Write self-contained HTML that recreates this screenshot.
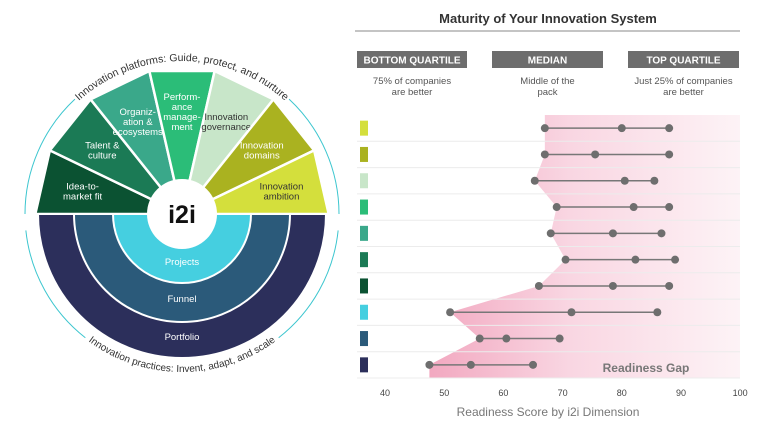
<!DOCTYPE html>
<html><head><meta charset="utf-8"><style>
html,body{margin:0;padding:0;background:#fff;width:768px;height:432px;overflow:hidden}
svg{display:block;font-family:"Liberation Sans",sans-serif}
</style></head><body>
<svg id="s" width="768" height="432" viewBox="0 0 768 432">
<defs>
<linearGradient id="pg" x1="0" x2="1" y1="0" y2="0">
<stop offset="0" stop-color="#f2a8c0"/><stop offset="0.45" stop-color="#f9d6e2"/><stop offset="1" stop-color="#fdf3f6"/>
</linearGradient>
<path id="topArc" d="M 29 214 A 153 153 0 0 1 335 214"/>
<path id="botArc" d="M 24 214 A 158 158 0 0 0 340 214"/>
</defs>
<g id="wheel"></g>
<g id="chart">
<text x="548" y="23" text-anchor="middle" font-size="13" font-weight="bold" fill="#333">Maturity of Your Innovation System</text>
<line x1="355" y1="31" x2="740" y2="31" stroke="#888" stroke-width="1"/>
<g>
<rect x="357" y="51" width="110" height="17" fill="#6d6d6d"/>
<text x="412" y="63.5" text-anchor="middle" font-size="10" font-weight="bold" fill="#fff">BOTTOM QUARTILE</text>
<text x="412" y="84" text-anchor="middle" font-size="9.5" fill="#555">75% of companies</text>
<text x="412" y="95" text-anchor="middle" font-size="9.5" fill="#555">are better</text></g>
<g>
<rect x="492" y="51" width="111" height="17" fill="#6d6d6d"/>
<text x="547.5" y="63.5" text-anchor="middle" font-size="10" font-weight="bold" fill="#fff">MEDIAN</text>
<text x="547.5" y="84" text-anchor="middle" font-size="9.5" fill="#555">Middle of the</text>
<text x="547.5" y="95" text-anchor="middle" font-size="9.5" fill="#555">pack</text></g>
<g>
<rect x="628" y="51" width="111" height="17" fill="#6d6d6d"/>
<text x="683.5" y="63.5" text-anchor="middle" font-size="10" font-weight="bold" fill="#fff">TOP QUARTILE</text>
<text x="683.5" y="84" text-anchor="middle" font-size="9.5" fill="#555">Just 25% of companies</text>
<text x="683.5" y="95" text-anchor="middle" font-size="9.5" fill="#555">are better</text></g>
<text x="548" y="416" text-anchor="middle" font-size="12" fill="#777">Readiness Score by i2i Dimension</text>
</g>
</svg>
<script>
const NS="http://www.w3.org/2000/svg";
function mk(p,t,a){const e=document.createElementNS(NS,t);for(const k in a)e.setAttribute(k,a[k]);p.appendChild(e);return e;}
// ---------- chart data ----------
const dimensions=["Innovation ambition","Innovation domains","Innovation governance","Performance management","Organization & ecosystems","Talent & culture","Idea-to-market fit","Projects","Funnel","Portfolio"];
const swatchColors=["#d4df3c","#aab220","#c8e6c9","#2bbd78","#3aa88a","#1b7a55","#0b5232","#45cfe0","#2b5a7a","#2c2f5b"];
const bottomQuartile=[67,67,65.3,69,68,70.5,66,51,56,47.5];
const medianScore=[80,75.5,80.5,82,78.5,82.3,78.5,71.5,60.5,54.5];
const topQuartile=[88,88,85.5,88,86.7,89,88,86,69.5,65];
const xTicks=[40,50,60,70,80,90,100];
const xs=v=>385+(v-40)*5.92;
const rowTop=115, rowH=26.3;
const ys=i=>rowTop+rowH*(i+0.5);
const ch=document.getElementById('chart');
let pts=[[740,rowTop],[xs(bottomQuartile[0]),rowTop]];
bottomQuartile.forEach((v,i)=>pts.push([xs(v),ys(i)]));
pts.push([xs(bottomQuartile[bottomQuartile.length-1]),rowTop+rowH*dimensions.length],[740,rowTop+rowH*dimensions.length]);
const area=mk(ch,'polygon',{points:pts.map(p=>p.join(',')).join(' '),fill:'url(#pg)'});


for(let i=1;i<=dimensions.length;i++){
 const l=mk(ch,'line',{x1:357,x2:740,y1:rowTop+rowH*i,y2:rowTop+rowH*i,stroke:'#ececec','stroke-width':1});
 
 
}
const gl=mk(ch,'text',{x:646,y:372,'text-anchor':'middle','font-size':12,'font-weight':'bold',fill:'#777'});
gl.textContent='Readiness Gap';


dimensions.forEach((d,i)=>{
 const y=ys(i);
 const sw=mk(ch,'rect',{x:360,y:y-7.5,width:8,height:15,fill:swatchColors[i]});
 
 
 const ln=mk(ch,'line',{x1:xs(bottomQuartile[i]),x2:xs(topQuartile[i]),y1:y,y2:y,stroke:'#777','stroke-width':1.5});
 
 
 [bottomQuartile[i],medianScore[i],topQuartile[i]].forEach((v,k)=>{
  const c=mk(ch,'circle',{cx:xs(v),cy:y,r:4,fill:'#6e6e6e'});
  
  
 });
});
xTicks.forEach(t=>{
 const tx=mk(ch,'text',{x:xs(t),y:396,'text-anchor':'middle','font-size':9,fill:'#444'});
 tx.textContent=t;
 
 
});
// ---------- wheel ----------
const W=document.getElementById('wheel');
const cx=182,cy=214;
const wedges=[["Idea-to-|market fit","#0b5232","#fff"],["Talent &|culture","#1b7a55","#fff"],["Organiz-|ation &|ecosystems","#3aa88a","#fff"],["Perform-|ance|manage-|ment","#2bbd78","#fff"],["Innovation|governance","#c8e6c9","#333"],["Innovation|domains","#aab220","#fff"],["Innovation|ambition","#d4df3c","#333"]];
const da=Math.PI/7, D=143;
wedges.forEach((w,i)=>{
 const a1=Math.PI-i*da,a2=Math.PI-(i+1)*da,am=(a1+a2)/2;
 const R=D/Math.cos(da/2);
 const p=[[cx,cy],[cx+R*Math.cos(a1),cy-R*Math.sin(a1)],[cx+R*Math.cos(a2),cy-R*Math.sin(a2)]];
 const g=mk(W,'g',{});
 
 
 mk(g,'polygon',{points:p.map(q=>q.join(',')).join(' '),fill:w[1],stroke:'#fff','stroke-width':2.5});
 const lines=w[0].split('|');const rr=102;
 const tx=cx+rr*Math.cos(am),ty=cy-rr*Math.sin(am);
 lines.forEach((s,k)=>{const t=mk(g,'text',{x:tx,y:ty+(k-(lines.length-1)/2)*10+3,'text-anchor':'middle','font-size':9.5,fill:w[2]});t.textContent=s;});
});
function ring(r,col,name,label,ly){
 const g=mk(W,'g',{});
 
 
 mk(g,'path',{d:`M ${cx-r} ${cy} A ${r} ${r} 0 0 0 ${cx+r} ${cy} Z`,fill:col,stroke:'#fff','stroke-width':2});
 const t=mk(g,'text',{x:cx,y:ly,'text-anchor':'middle','font-size':9.5,fill:'#fff'});t.textContent=label;
}
ring(144,'#2c2f5b','portfolio-ring','Portfolio',340);
ring(108,'#2b5a7a','funnel-ring','Funnel',302);
ring(69,'#45cfe0','projects-ring','Projects',265);
const hub=mk(W,'circle',{cx:cx,cy:cy,r:35,fill:'#fff'});


const i2=mk(W,'text',{x:cx,y:cy+9,'text-anchor':'middle','font-size':25,'font-weight':'bold',fill:'#111'});
i2.textContent='i2i';


// brackets (degrees, math convention)
const rb=157;
function P(d){const a=d*Math.PI/180;return [cx+rb*Math.cos(a),cy-rb*Math.sin(a)];}
function arc(d1,d2,name){
 const p1=P(d1),p2=P(d2);
 const sweep=d1>d2?1:0;
 const p=mk(W,'path',{d:`M ${p1[0]} ${p1[1]} A ${rb} ${rb} 0 0 ${sweep} ${p2[0]} ${p2[1]}`,fill:'none',stroke:'#3cc6cf','stroke-width':1});
 
 
}
arc(180,133,'platform-bracket-left');
arc(47,0,'platform-bracket-right');
arc(186,232,'practice-bracket-left');
arc(-52,-6,'practice-bracket-right');
const tp=mk(W,'text',{'font-size':10.5,fill:'#333'});


const tpp=mk(tp,'textPath',{href:'#topArc',startOffset:'50%','text-anchor':'middle'});tpp.textContent='Innovation platforms: Guide, protect, and nurture';
const bp=mk(W,'text',{'font-size':10,fill:'#333'});


const bpp=mk(bp,'textPath',{href:'#botArc',startOffset:'50%','text-anchor':'middle'});bpp.textContent='Innovation practices: Invent, adapt, and scale';
</script>
</body></html>
